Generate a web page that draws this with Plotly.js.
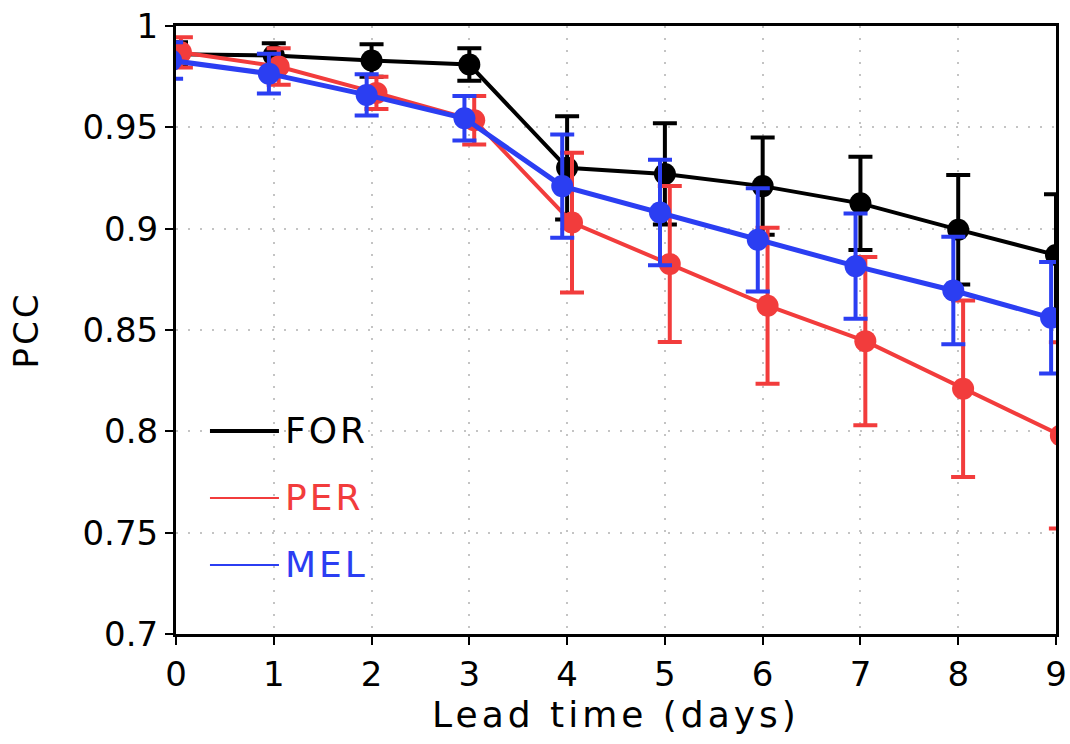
<!DOCTYPE html>
<html>
<head>
<meta charset="utf-8">
<script src="https://cdn.plot.ly/plotly-3.0.1.min.js"></script>
<style>
  html, body { margin: 0; padding: 0; background: #fff; }
  #chart { width: 1070px; height: 744px; }
  .xtitle { letter-spacing: 4px; }
  .ytitle { letter-spacing: 3px; }
  .annotation-text { letter-spacing: 3px; }
</style>
</head>
<body>
<div id="chart"></div>
<script>
// Lead time (days)
const leadDays = [0, 1, 2, 3, 4, 5, 6, 7, 8, 9];

// Series: mean PCC and error half-widths
const forMean = [0.986, 0.9855, 0.983, 0.981, 0.930, 0.927, 0.921, 0.9125, 0.8995, 0.887];
const forErr  = [0.006, 0.006, 0.008, 0.008, 0.0255, 0.025, 0.024, 0.023, 0.027, 0.030];

const perMean = [0.987, 0.980, 0.967, 0.9535, 0.903, 0.8826, 0.862, 0.8445, 0.821, 0.798];
const perErr  = [0.0075, 0.009, 0.008, 0.012, 0.0345, 0.0385, 0.0385, 0.0415, 0.0435, 0.046];

const melMean = [0.983, 0.9765, 0.966, 0.9545, 0.921, 0.908, 0.8945, 0.8815, 0.8695, 0.856];
const melErr  = [0.009, 0.0098, 0.0102, 0.011, 0.0255, 0.026, 0.0255, 0.026, 0.0265, 0.0275];

const seriesNames = ["FOR", "PER", "MEL"];
const yTickVals = [0.7, 0.75, 0.8, 0.85, 0.9, 0.95, 1];
const yTickText = ["0.7", "0.75", "0.8", "0.85", "0.9", "0.95", "1"];

const colors = { FOR: "#000000", PER: "#f23c3c", MEL: "#2b3ef2" };
const offsets = { FOR: 0, PER: 0.05, MEL: -0.05 };
const FONT = "DejaVu Sans ExtraLight, DejaVu Sans, Arial, sans-serif";

function makeTrace(name, mean, err, lw) {
  return {
    type: "scatter",
    mode: "lines+markers",
    name: name,
    x: leadDays.map(d => d + offsets[name]),
    y: mean,
    line: { color: colors[name], width: lw },
    marker: { color: colors[name], size: 22 },
    error_y: { type: "data", array: err, visible: true, color: colors[name], thickness: 4, width: 12 },
    showlegend: false,
    cliponaxis: true
  };
}

const data = [
  makeTrace("FOR", forMean, forErr, 4),
  makeTrace("PER", perMean, perErr, 4),
  makeTrace("MEL", melMean, melErr, 5)
];

// legend (drawn as shapes + annotations)
const legendY = { FOR: 0.334, PER: 0.2237, MEL: 0.1135 };
const legendW = { FOR: 4, PER: 2, MEL: 2 };
const shapes = seriesNames.map(n => ({
  type: "line", xref: "paper", yref: "paper",
  x0: 0.0386, x1: 0.117, y0: legendY[n], y1: legendY[n],
  line: { color: colors[n], width: legendW[n] }
}));
const annotations = seriesNames.map(n => ({
  xref: "paper", yref: "paper", x: 0.122, y: legendY[n],
  xanchor: "left", yanchor: "middle", showarrow: false,
  text: n, font: { family: FONT, size: 36, color: colors[n] }
}));

const layout = {
  width: 1070, height: 744,
  margin: { l: 176, r: 14, t: 26, b: 110 },
  paper_bgcolor: "#ffffff", plot_bgcolor: "#ffffff",
  font: { family: FONT, size: 32, color: "#000" },
  xaxis: {
    range: [0, 9], tickvals: leadDays, ticktext: leadDays.map(String),
    ticks: "outside", ticklen: 8, tickwidth: 2, tickcolor: "#000",
    showline: true, linecolor: "#000", linewidth: 3, mirror: true,
    showgrid: true, gridcolor: "#c4c4c4", griddash: "2px,10px", gridwidth: 2,
    zeroline: false,
    tickfont: { family: FONT, size: 34, color: "#000" },
    title: { text: "Lead time (days)", font: { family: FONT, size: 36, color: "#000" }, standoff: 6 }
  },
  yaxis: {
    range: [0.7, 1], tickvals: yTickVals, ticktext: yTickText,
    ticks: "outside", ticklen: 8, tickwidth: 2, tickcolor: "#000",
    showline: true, linecolor: "#000", linewidth: 3, mirror: true,
    showgrid: true, gridcolor: "#c4c4c4", griddash: "2px,10px", gridwidth: 2,
    zeroline: false,
    tickfont: { family: FONT, size: 34, color: "#000" },
    title: { text: "PCC", font: { family: FONT, size: 34, color: "#000" }, standoff: 34 }
  },
  shapes: shapes,
  annotations: annotations
};

Plotly.newPlot("chart", data, layout, { displayModeBar: false, staticPlot: true });
</script>
</body>
</html>
